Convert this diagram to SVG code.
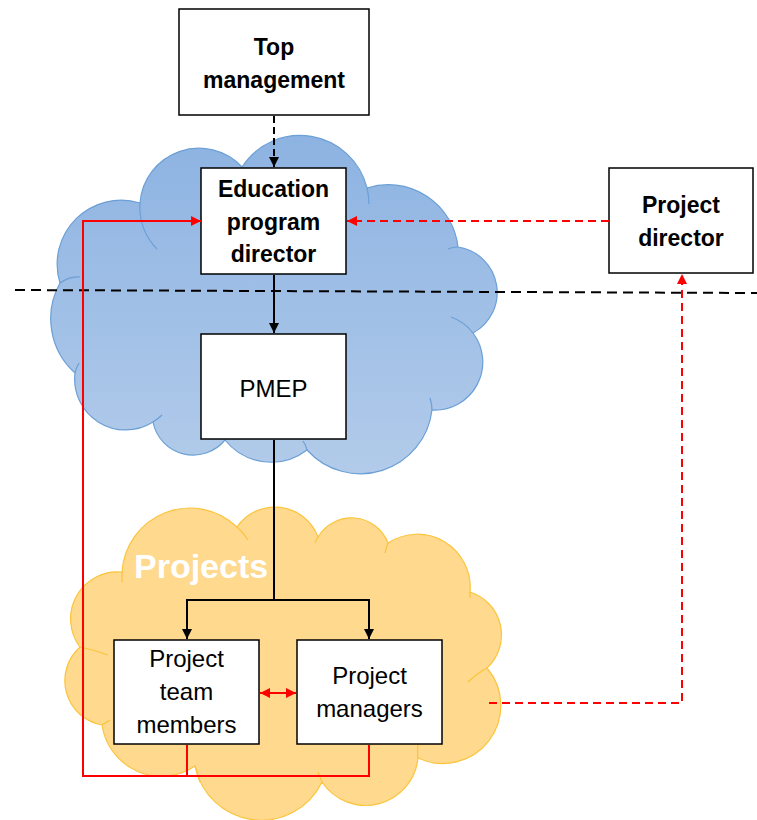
<svg xmlns="http://www.w3.org/2000/svg" width="757" height="820" viewBox="0 0 757 820">
<style>
.box{fill:#fff;stroke:#000;stroke-width:1.5}
.b{font-family:"Liberation Sans",Arial,sans-serif;font-weight:bold;font-size:23px;fill:#000;text-anchor:middle}
.r{font-family:"Liberation Sans",Arial,sans-serif;font-size:24px;fill:#000;text-anchor:middle}
.blk{fill:none;stroke:#000;stroke-width:2}
.red{fill:none;stroke:#f00;stroke-width:2}
.dash{stroke-dasharray:8 5}
.hdash{stroke-dasharray:10 6}
.bl{stroke:#6b9fd6;stroke-width:1.2}
.or{stroke:#fbc43c;stroke-width:1.2}
</style>
<defs>
<linearGradient id="gBlue" x1="0" y1="0" x2="0" y2="1">
<stop offset="0" stop-color="#8db3e2"/>
<stop offset="1" stop-color="#b2cbea"/>
</linearGradient>
<marker id="aK" viewBox="0 0 10 10" refX="10" refY="5" markerWidth="10" markerHeight="10" markerUnits="userSpaceOnUse" orient="auto-start-reverse"><path d="M0,0 L10,5 L0,10 Z" fill="#000"/></marker>
<marker id="aR" viewBox="0 0 10 10" refX="10" refY="5" markerWidth="10" markerHeight="10" markerUnits="userSpaceOnUse" orient="auto-start-reverse"><path d="M0,0 L10,5 L0,10 Z" fill="#f00"/></marker>
</defs>

<g id="cloud-blue">
<path class="bl" fill="url(#gBlue)" d="M60,283 A64 64 0 0 1 140,203 A59 59 0 0 1 242,167 A69 69 0 0 1 367,188 A70 70 0 0 1 458,247 A46 46 0 0 1 473,333 A48 48 0 0 1 432,410 A72 72 0 0 1 307,450 A59 59 0 0 1 225,440 A41 41 0 0 1 153,422 A51 51 0 0 1 75,373 A73 73 0 0 1 60,283 Z"/>
<path class="bl" fill="none" d="M60,283 Q70,276 80,277 M140,203 A59 59 0 0 0 157,249 M367,188 A69 69 0 0 1 369,204 M458,247 Q452,247 448,249 M473,333 A48 48 0 0 0 451,317 M432,410 Q432,404 430,398 M307,450 Q306,445 303,441 M153,422 A51 51 0 0 0 162,415 M75,373 Q76,368 79,363"/>
</g>

<g id="cloud-orange">
<path class="or" fill="#fed98e" d="M80,647 A47 47 0 0 1 122,572 A68 68 0 0 1 237,527 A46 46 0 0 1 318,537 A39 39 0 0 1 388,543 A53 53 0 0 1 470,592 A45 45 0 0 1 487,668 A58 58 0 0 1 418,758 A52.5 52.5 0 0 1 322,782 A67.5 67.5 0 0 1 195,766 A60 60 0 0 1 102,725 A45 45 0 0 1 80,647 Z"/>
<path class="or" fill="none" d="M80,647 Q95,650 108,655 M122,572 Q122,577 122,582 M237,527 A68 68 0 0 1 248,540 M318,537 Q316,540 315,543 M388,543 Q386,548 385,553 M470,592 Q470,595 470,598 M487,668 Q478,673 468,682 M418,758 Q417,752 418,745 M322,782 Q320,777 318,772 M195,766 Q197,773 200,782 M102,725 Q107,722 110,720"/>
</g>

<text id="label-projects" x="134" y="578" font-family="Liberation Sans, Arial, sans-serif" font-weight="bold" font-size="34" fill="#fff">Projects</text>

<g id="top-management">
<rect class="box" x="179" y="9" width="190" height="106"/>
<text class="b" x="274" y="55">Top</text>
<text class="b" x="274" y="88">management</text>
</g>

<g id="education-program-director">
<rect class="box" x="201" y="168" width="145" height="106"/>
<text class="b" x="273.5" y="197">Education</text>
<text class="b" x="273.5" y="230">program</text>
<text class="b" x="273.5" y="262">director</text>
</g>

<g id="project-director">
<rect class="box" x="609" y="168" width="144" height="105"/>
<text class="b" x="681" y="213">Project</text>
<text class="b" x="681" y="246">director</text>
</g>

<g id="pmep">
<rect class="box" x="201" y="334" width="145" height="105"/>
<text class="r" x="273.5" y="397">PMEP</text>
</g>

<g id="project-team-members">
<rect class="box" x="114" y="640" width="145" height="104"/>
<text class="r" x="186.5" y="667">Project</text>
<text class="r" x="186.5" y="700">team</text>
<text class="r" x="186.5" y="733">members</text>
</g>

<g id="project-managers">
<rect class="box" x="297" y="640" width="145" height="104"/>
<text class="r" x="369.5" y="684">Project</text>
<text class="r" x="369.5" y="717">managers</text>
</g>

<g id="connectors">
<line class="blk hdash" x1="15" y1="290" x2="757" y2="293"/>
<line class="blk" stroke-dasharray="7 4" x1="274" y1="116" x2="274" y2="167" marker-end="url(#aK)"/>
<line class="blk" x1="274" y1="275" x2="274" y2="333" marker-end="url(#aK)"/>
<polyline class="blk" points="274,440 274,600"/>
<polyline class="blk" points="187,639 187,600 369,600 369,639" marker-start="url(#aK)" marker-end="url(#aK)"/>
<line class="red" x1="260" y1="693" x2="296" y2="693" marker-start="url(#aR)" marker-end="url(#aR)"/>
<polyline class="red" points="187,745 187,776"/>
<polyline class="red" points="369,745 369,776 83,776 83,221 201,221" marker-end="url(#aR)"/>
<line class="red dash" x1="609" y1="221" x2="347" y2="221" marker-end="url(#aR)"/>
<polyline class="red dash" points="489,703 682,703 682,274" marker-end="url(#aR)"/>
</g>
</svg>
